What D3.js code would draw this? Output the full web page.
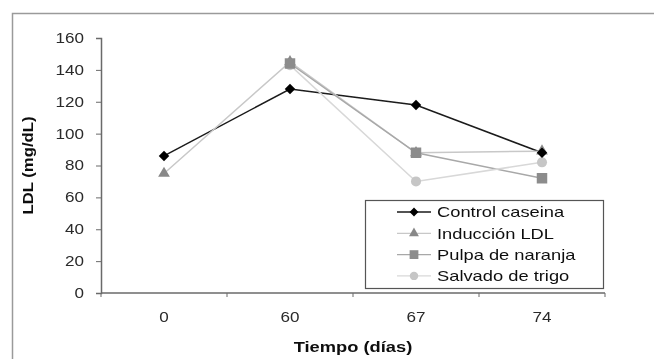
<!doctype html>
<html lang='en'>
<head>
    <meta charset='UTF-8'>
    <title>LDL</title>
    <script src='https://cdn.jsdelivr.net/npm/d3@7/dist/d3.min.js'></script>
    <style>
        body { margin: 0; background: #fff; }
        text { font-family: 'Liberation Sans', Arial, sans-serif; }
    </style>
</head>
<body>
<div id='chart'></div>
<script>
    // data
    const dias = ['0', '60', '67', '74'];
    const controlCaseina = [86, 128, 118, 88];
    const induccionLDL = [75, 145, 88, 89];
    const pulpaNaranja = [null, 144, 88, 72];
    const salvadoTrigo = [null, 143, 70, 82];
    const yTicks = [0, 20, 40, 60, 80, 100, 120, 140, 160];

    const W = 654, H = 359;
    const M = { left: 101, right: 49, top: 38, bottom: 66 };
    const STRETCH = 1.22; // the source picture is a little wider than tall

    const series = [
        { name: 'Control caseina', values: controlCaseina, line: '#1a1a1a', fill: '#000', shape: d3.symbolSquare, size: 55, rot: 45 },
        { name: 'Inducción LDL', values: induccionLDL, line: '#c8c8c8', fill: '#888', shape: d3.symbolTriangle, size: 60, rot: 0 },
        { name: 'Pulpa de naranja', values: pulpaNaranja, line: '#a8a8a8', fill: '#8c8c8c', shape: d3.symbolSquare, size: 110, rot: 0 },
        { name: 'Salvado de trigo', values: salvadoTrigo, line: '#d8d8d8', fill: '#c6c6c6', shape: d3.symbolCircle, size: 80, rot: 0 }
    ];
    // which marker ends up on top where they overlap
    const markerOrder = [3, 1, 2, 0];

    const svg = d3.select('#chart').append('svg').attr('width', W).attr('height', H);
    svg.append('defs').append('filter').attr('id', 'soft')
        .append('feGaussianBlur').attr('stdDeviation', 0.45);
    const g = svg.append('g').attr('filter', 'url(#soft)');

    function widen(sel) {
        sel.each(function () {
            const len = this.getComputedTextLength();
            d3.select(this).attr('textLength', len * STRETCH).attr('lengthAdjust', 'spacingAndGlyphs');
        });
    }

    // outer chart frame
    g.append('rect')
        .attr('x', 12.5).attr('y', 13.5).attr('width', W).attr('height', H)
        .attr('fill', 'none').attr('stroke', '#9a9a9a').attr('stroke-width', 1.5);

    const x = d3.scaleBand().domain(dias).range([M.left, W - M.right]);
    const y = d3.scaleLinear().domain([0, 160]).range([H - M.bottom, M.top]);

    // y axis
    const gy = g.append('g')
        .attr('transform', 'translate(' + M.left + ',0)')
        .call(d3.axisLeft(y).tickValues(yTicks).tickSize(5).tickPadding(12));
    gy.select('.domain').attr('stroke', '#6a6a6a').attr('stroke-width', 1.5);
    gy.selectAll('.tick line').attr('stroke', '#6a6a6a');
    gy.selectAll('text').attr('font-size', 14).attr('fill', '#2a2a2a')
        .style('font-family', "'Liberation Sans', Arial, sans-serif").call(widen);

    // x axis: ticks at band edges
    const gx = g.append('g')
        .attr('transform', 'translate(0,' + y(0) + ')');
    gx.append('line')
        .attr('x1', x.range()[0]).attr('x2', x.range()[1])
        .attr('stroke', '#6a6a6a').attr('stroke-width', 1.5);
    const edges = dias.map(d => x(d)).concat([x.range()[1]]);
    gx.selectAll('.edge').data(edges).join('line')
        .attr('x1', d => d).attr('x2', d => d)
        .attr('y1', 0).attr('y2', 4)
        .attr('stroke', '#6a6a6a');
    gx.selectAll('.lbl').data(dias).join('text')
        .attr('x', d => x(d) + x.bandwidth() / 2)
        .attr('y', 29)
        .attr('text-anchor', 'middle')
        .attr('font-size', 14).attr('fill', '#2a2a2a')
        .text(d => d).call(widen);

    // axis titles
    g.append('text')
        .attr('transform', 'translate(33,' + y(80) + ')rotate(-90)')
        .attr('text-anchor', 'middle')
        .attr('font-size', 14).attr('font-weight', 'bold').attr('fill', '#111')
        .attr('textLength', 98).attr('lengthAdjust', 'spacingAndGlyphs')
        .text('LDL (mg/dL)');
    g.append('text')
        .attr('x', 353).attr('y', 352)
        .attr('text-anchor', 'middle')
        .attr('font-size', 15).attr('font-weight', 'bold').attr('fill', '#111')
        .text('Tiempo (días)').call(widen);

    const cx = i => x(dias[i]) + x.bandwidth() / 2;
    const line = d3.line()
        .defined(d => d != null)
        .x((d, i) => cx(i))
        .y(d => y(d));

    series.forEach(s => {
        g.append('path')
            .attr('d', line(s.values))
            .attr('fill', 'none')
            .attr('stroke', s.line)
            .attr('stroke-width', 1.5);
    });
    markerOrder.forEach(k => {
        const s = series[k];
        g.append('g').selectAll('path')
            .data(s.values.map((v, i) => ({ v: v, i: i })).filter(d => d.v != null))
            .join('path')
            .attr('d', d3.symbol().type(s.shape).size(s.size))
            .attr('transform', d => 'translate(' + cx(d.i) + ',' + y(d.v) + ')rotate(' + s.rot + ')')
            .attr('fill', s.fill);
    });

    // legend
    const lg = g.append('g').attr('transform', 'translate(365,200)');
    lg.append('rect')
        .attr('x', 0.5).attr('y', 0.5).attr('width', 238).attr('height', 88)
        .attr('fill', '#fff').attr('stroke', '#555').attr('stroke-width', 1.2);
    const item = lg.selectAll('.item').data(series).join('g')
        .attr('transform', (d, i) => 'translate(0,' + (12 + i * 21.3) + ')');
    item.append('line')
        .attr('x1', 32).attr('x2', 66)
        .attr('stroke', d => d.line).attr('stroke-width', 1.3);
    item.append('path')
        .attr('d', d => d3.symbol().type(d.shape).size(d.size * 0.7)())
        .attr('transform', d => 'translate(49,0)rotate(' + d.rot + ')')
        .attr('fill', d => d.fill);
    item.append('text')
        .attr('x', 72).attr('dy', '0.36em')
        .attr('font-size', 15).attr('fill', '#111')
        .text(d => d.name).call(widen);
</script>
</body>
</html>
